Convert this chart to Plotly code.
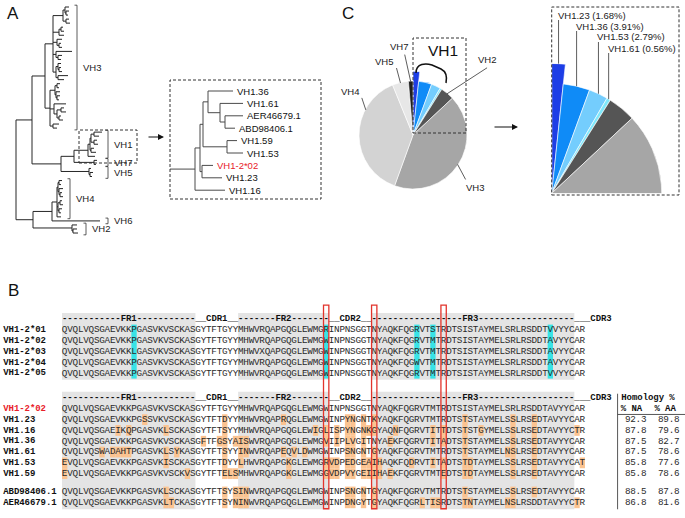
import math
import plotly.graph_objects as go

W, H = 685, 518

# ======================= DATA =======================
# ---- Panel A: VH phylogeny (Newick strings, branch lengths) ----
VH3_CLADE = ("((((:4,(:3,:2):1):2,(:3,:4):3):10,((:2,:3):2,:5):6,(:5,(:2,:3):2):4,(:16,(:4,:3):2):3,"
             "((:3,(:2,:3):1):2,(:10,:6):2):3):8,(((:3,:2):2,(:4,(:3,:2):1):1):5,(:12,((:3,:5):4,(:2,:4):2):3):4,(:6,:4):3):5)")
VH1_CLADE = "((((:8,:5):3,(:3,:4):3):1,(:3,:5):1):2,:7)"
VH7_CLADE = "(:3,:2)"
VH5_CLADE = "(:2,(:3,:2):1)"
VH4_CLADE = "(((:3,:2):1,(:4,(:2,:3):1):1):1,((:2,:3):2,(:3,:2):1):1,:4)"
VH6_CLADE = ""
VH2_CLADE = "(:5,(:4,:5):1)"
clade_names = ["VH3", "VH1", "VH7", "VH5", "VH4", "VH6", "VH2"]
clade_trees = [VH3_CLADE, VH1_CLADE, VH7_CLADE, VH5_CLADE, VH4_CLADE, VH6_CLADE, VH2_CLADE]
main_tree = ("((" + VH3_CLADE + ":13,((" + VH1_CLADE + ":14," + VH7_CLADE + ":20):13," + VH5_CLADE + ":28):29):16,"
             "((" + VH4_CLADE + ":5," + VH6_CLADE + ":48):19," + VH2_CLADE + ":39):17)")
inset_tree = ("((((VH1.36:25,(VH1.61:23,(AER46679.1:18,ABD98406.1:10):5):12):5,(VH1.59:10,VH1.53:16):24):3,"
              "(VH1-2*02:11,VH1.23:20):2):5,VH1.16:30):25")
germline = "VH1-2*02"

# ---- Panel C: VH family usage (%) ----
pie_labels = ["VH1.23", "VH1.36", "VH1.53", "VH1.61", "VH2", "VH3", "VH4", "VH5", "VH7"]
pie_values = [1.68, 3.91, 2.79, 0.56, 4.1, 42.5, 38.3, 4.8, 1.36]
vh1_members = ["VH1.23", "VH1.36", "VH1.53", "VH1.61"]

# ---- Panel B: alignments ----
top_names = ["VH1-2*01", "VH1-2*02", "VH1-2*03", "VH1-2*04", "VH1-2*05"]
top_seqs = [
    "QVQLVQSGAEVKKPGASVKVSCKASGYTFTGYYMHWVRQAPGQGLEWMGRINPNSGGTNYAQKFQGRVTSTRDTSISTAYMELSRLRSDDTVVYYCAR",
    "QVQLVQSGAEVKKPGASVKVSCKASGYTFTGYYMHWVRQAPGQGLEWMGWINPNSGGTNYAQKFQGRVTMTRDTSISTAYMELSRLRSDDTAVYYCAR",
    "QVQLVQSGAEVKKLGASVKVSCKASGYTFTGYYMHWVXQAPGQGLEWMGWINPNSGGTNYAQKFQGRVTMTRDTSISTAYMELSRLRSDDTAVYYCAR",
    "QVQLVQSGAEVKKPGASVKVSCKASGYTFTGYYMHWVRQAPGQGLEWMGWINPNSGGTNYAQKFQGWVTMTRDTSISTAYMELSRLRSDDTAVYYCAR",
    "QVQLVQSGAEVKKPGASVKVSCKASGYTFTGYYMHWVRQAPGQGLEWMGWINPNSGGTNYAQKFQGRVTMTRDTSISTAYMELSRLRSDDTVVYYCAR",
]
bottom_names = ["VH1-2*02", "VH1.23", "VH1.16", "VH1.36", "VH1.61", "VH1.53", "VH1.59", "ABD98406.1", "AER46679.1"]
bottom_seqs = [
    "QVQLVQSGAEVKKPGASVKVSCKASGYTFTGYYMHWVRQAPGQGLEWMGWINPNSGGTNYAQKFQGRVTMTRDTSISTAYMELSRLRSDDTAVYYCAR",
    "QVQLVQSGAEVKKPGSSVKVSCKASGYTFTDYYMHWVRQAPRQGLEWMGWINPYNGNTKYAQKFQGRVTMTRDTSTSTAYMELSSLRSEDTAVYYCAR",
    "QVQLVQSGAEIKQPGASVKLSCKASGYTFTSYYMHWVRQAPGQGLEWIGLISPYNGNKGYAQNFQGRVTITTDTSTSTGYMELSSLRSEDTAVYYCTR",
    "QVQLVQSGAEVKKPGASVKVSCKASGFTFGSYAISWVRQAPGQGLEWMGVIIPLVGITNYAEKFQGRVTITADTSTSTAYMELSSLRSEDTAVYYCAR",
    "QVQLVQSWADAHTPGASVKLSYKASGYTFTSYYINWVRQAPEQVLDWMGWINPSNGNTGYAQKFQGRVTMTRDTSTSTAYMELNSLRSEDTAVYYCAR",
    "EVQLVQSGAEVKKPGASVKISCKASGYTFTDYYLHWVRQAPGKGLEWMGRVDPEDGEAIHAQKFQDRVTITADTSTDTAYMELSSLRSEDTAVYYCAT",
    "EVQLVQSGAEVKKPGASVKVSCKVSGYTFTELSMHWVRQAPGKGLEWMGGVDPVYGEIIHAEKFQGRVTMTEDTSTDTAYMELSSLRSEDTAVYYCAR",
    "QVQLVQSGAEVKKPGASVKLSCKASGYTFTSYSINWVRQAPGQGLEWMGWINPSNGNTGYAQKFQGRVTMTRDTSTSTAYMELSSLRSEDTAVYYCAR",
    "QVQLVQSGAEVKKPGASVKLTCKASGYTFTSYNINWVRQAPGQGLEWMGWINPDNGYTGYAQKFQGRLTISRDTSTNTAYMELNSLRSDDTAVYYCTR",
]
homology_na = [None, 92.3, 87.8, 87.5, 87.5, 85.8, 85.8, 88.5, 86.8]
homology_aa = [None, 89.8, 79.6, 82.7, 78.6, 77.6, 78.6, 87.8, 81.6]
regions = [("FR1", 0, 24), ("CDR1", 25, 32), ("FR2", 33, 49), ("CDR2", 50, 57), ("FR3", 58, 95), ("CDR3", 96, 97)]
allele_var_cols = [13, 49, 66, 69, 91]
boxed_cols = [49, 58, 71]

# ======================= STYLE / LAYOUT =======================
SANS = "Liberation Sans, Arial, sans-serif"
MONO = "Liberation Mono, Courier New, monospace"
pie_colors = ["#1d3ee6", "#0f8bf7", "#74cdfd", "#7fe8fb", "#555555", "#a6a6a6", "#d3d3d3", "#e7e7e7", "#202020"]
pie_radius = [1.18, 1, 1, 1, 1, 1, 1, 1, 1]
SHADE, CYAN, ORANGE, RED = "#e4e4e4", "#38e3e6", "#fbc390", "#e2342c"


def px_x(px):
    return px / W


def px_y(py):
    return 1 - py / H


def parse_newick(s):
    pos = 0

    def node():
        nonlocal pos
        kids = []
        if pos < len(s) and s[pos] == "(":
            pos += 1
            kids.append(node())
            while s[pos] == ",":
                pos += 1
                kids.append(node())
            pos += 1
        start = pos
        while pos < len(s) and s[pos] not in ":,()":
            pos += 1
        name = s[start:pos]
        length = 0.0
        if pos < len(s) and s[pos] == ":":
            pos += 1
            start = pos
            while pos < len(s) and s[pos] not in ",()":
                pos += 1
            length = float(s[start:pos])
        return {"name": name, "len": length, "kids": kids}

    return node()


def tree_layout(tree, x0=0.0):
    xs, ys, leaves = [], [], []
    count = [0]

    def rec(n, xp):
        x = xp + n["len"]
        if n["kids"]:
            cy = [rec(k, x) for k in n["kids"]]
            y = (cy[0] + cy[-1]) / 2.0
            xs.extend([x, x, None]); ys.extend([cy[0], cy[-1], None])
        else:
            y = float(count[0]); count[0] += 1
            leaves.append((n["name"], x, y))
        if n["len"] > 0:
            xs.extend([xp, x, None]); ys.extend([y, y, None])
        return y

    rec(tree, x0)
    return xs, ys, leaves


traces, shapes, annotations = [], [], []

# ---------------- Panel A: main tree ----------------
mx, my, mleaves = tree_layout(parse_newick(main_tree), 0.0)
traces.append(go.Scatter(x=mx, y=my, mode="lines", line=dict(color="#262626", width=1),
                         xaxis="x", yaxis="y", hoverinfo="skip"))
clade_bracket_px = [77, 108, 108, 108, 70, 108, 86]
bx, by = [], []
start = 0
for name, nw, xb_px in zip(clade_names, clade_trees, clade_bracket_px):
    n = nw.count(",") + 1
    first, last = start, start + n - 1
    start += n
    pad = 0.45 if n > 1 else 0.7
    xb = xb_px - 16
    y0, y1 = first - pad, last + pad
    bx += [xb - 2.5, xb, xb, xb - 2.5, None]
    by += [y0, y0, y1, y1, None]
    annotations.append(dict(xref="x", yref="y", x=xb + 4, y=(first + last) / 2, text=name, showarrow=False,
                            xanchor="left", yanchor="middle", font=dict(family=SANS, size=9.5, color="#222")))
traces.append(go.Scatter(x=bx, y=by, mode="lines", line=dict(color="#333", width=0.8),
                         xaxis="x", yaxis="y", hoverinfo="skip"))

# ---------------- Panel A: inset tree ----------------
ix, iy, ileaves = tree_layout(parse_newick(inset_tree), 170.0)
traces.append(go.Scatter(x=ix, y=iy, mode="lines", line=dict(color="#4a4a4a", width=1),
                         xaxis="x2", yaxis="y2", hoverinfo="skip"))
for name, x, y in ileaves:
    annotations.append(dict(xref="x2", yref="y2", x=x + 2, y=y, text=name, showarrow=False, xanchor="left",
                            yanchor="middle",
                            font=dict(family=SANS, size=9.5, color="#e8202a" if name == germline else "#111")))

# ---------------- Panel C: pies ----------------
total = sum(pie_values)
theta_mid, theta_w, acc = [], [], 0.0
for v in pie_values:
    w = v / total * 360.0
    theta_mid.append(acc + w / 2)
    theta_w.append(w)
    acc += w
for sub in ["polar", "polar2"]:
    traces.append(go.Barpolar(r=pie_radius, theta=theta_mid, width=theta_w, subplot=sub,
                              marker=dict(color=pie_colors, line=dict(color="white", width=0.6)),
                              hoverinfo="skip"))

MCX, MCY, MR = 413.0, 135.0, 54.0       # main pie centre / unit radius (px)
ICX, ICY, IR = 551.7, 193.3, 110.0      # zoomed quadrant centre / unit radius (px)


def pie_pt(cx, cy, R, ang, r):
    a = math.radians(ang)
    return cx + R * r * math.sin(a), cy - R * r * math.cos(a)


# group labels on the main pie
leader = {"VH2": (None, 40, -26, "center", "bottom", 0, -1),
          "VH3": (None, 8, 15, "left", "top", -2, 1),
          "VH4": (298, -4, -12, "right", "bottom", -1, 1),
          "VH5": (None, -4, -15, "right", "bottom", -1, 1),
          "VH7": (None, -6, -27, "center", "bottom", -6, -1)}
for name, (ang, dx, dy, xa, ya, tx, ty) in leader.items():
    i = pie_labels.index(name)
    a = theta_mid[i] if ang is None else ang
    ex, ey = pie_pt(MCX, MCY, MR, a, 0.99)
    ox, oy = ex + dx, ey + dy
    shapes.append(dict(type="line", xref="paper", yref="paper", x0=px_x(ex), y0=px_y(ey), x1=px_x(ox),
                       y1=px_y(oy), line=dict(color="#333", width=0.8)))
    annotations.append(dict(xref="paper", yref="paper", x=px_x(ox + tx), y=px_y(oy + ty), text=name,
                            showarrow=False, xanchor=xa, yanchor=ya, font=dict(family=SANS, size=9.5, color="#222")))
annotations.append(dict(xref="paper", yref="paper", x=px_x(443), y=px_y(50), text="VH1", showarrow=False,
                        xanchor="center", yanchor="middle", font=dict(family=SANS, size=15.5, color="#111")))
bp = [(416, 73), (416, 63), (426, 63), (432, 65), (441, 69), (447, 72), (447, 78), (446, 83)]
path = "M {} {} C {} {}, {} {}, {} {} L {} {} C {} {}, {} {}, {} {}".format(
    *[v for p in bp for v in (px_x(p[0]), px_y(p[1]))])
shapes.append(dict(type="path", xref="paper", yref="paper", path=path, line=dict(color="#111", width=1.5)))

# member labels on the zoomed quadrant
for k, name in enumerate(vh1_members):
    i = pie_labels.index(name)
    ex, ey = pie_pt(ICX, ICY, IR, theta_mid[i], pie_radius[i])
    ly = 15 + 11 * k
    shapes.append(dict(type="line", xref="paper", yref="paper", x0=px_x(ex), y0=px_y(ly + 5), x1=px_x(ex),
                       y1=px_y(ey), line=dict(color="#333", width=0.8)))
    annotations.append(dict(xref="paper", yref="paper", x=px_x(ex - 3), y=px_y(ly), text="%s (%.2f%%)" % (name, pie_values[i]),
                            showarrow=False, xanchor="left", yanchor="middle",
                            font=dict(family=SANS, size=9.5, color="#222")))

# ---------------- Panel B: alignment ----------------
CH_W, X0PX = 5.337, 64.67
ROW_H, Y0PX = 10.8, 319.2
top_header_row, top_rows = 0.0, [1, 2, 3, 4, 5]
bot_header_row = 7.3
bot_rows = [8.3, 9.3, 10.3, 11.3, 12.3, 13.3, 14.3, 16.0, 17.0]


def region_header(name, a, b):
    n = b - a + 1
    if name == "CDR3":
        return "___CDR3"
    fill = "-" if name.startswith("FR") else "_"
    left = (n - len(name)) // 2
    return fill * left + name + fill * (n - left - len(name))


header = "".join(region_header(*r) for r in regions)

norm = {"x": [], "y": [], "t": [], "c": []}
bold = {"x": [], "y": [], "t": [], "c": []}


def put(buf, row, col0, s, color):
    for k, ch in enumerate(s):
        if ch != " ":
            buf["x"].append(col0 + k); buf["y"].append(row); buf["t"].append(ch); buf["c"].append(color)


def cell(x0, x1, y0, y1, color, layer="below"):
    shapes.append(dict(type="rect", xref="x3", yref="y3", x0=x0, x1=x1, y0=y0, y1=y1, layer=layer,
                       fillcolor=color, line=dict(width=0)))


for (ya, yb) in [(top_header_row - 0.58, top_rows[-1] + 0.6), (bot_header_row - 0.58, bot_rows[-1] + 0.6)]:
    for name, a, b in regions:
        if name.startswith("FR"):
            cell(a - 0.5, b + 0.5, ya, yb, SHADE)
for c in allele_var_cols:
    cell(c - 0.5, c + 0.5, top_rows[0] - 0.5, top_rows[-1] + 0.5, CYAN)
for row, seq in zip(bot_rows[1:], bottom_seqs[1:]):
    for i, (a, g) in enumerate(zip(seq, bottom_seqs[0])):
        if a != g:
            cell(i - 0.5, i + 0.5, row - 0.5, row + 0.5, ORANGE)
for c in boxed_cols:
    shapes.append(dict(type="rect", xref="x3", yref="y3", x0=c - 0.5, x1=c + 0.5, y0=-1.3, y1=17.55,
                       layer="above", line=dict(color=RED, width=1.3)))

put(bold, top_header_row, 0, header, "#111")
put(bold, bot_header_row, 0, header, "#111")
for row, name, seq in zip(top_rows, top_names, top_seqs):
    put(bold, row, -11, name, "#111")
    put(norm, row, 0, seq, "#2a2a2a")
for row, name, seq in zip(bot_rows, bottom_names, bottom_seqs):
    put(bold, row, -11, name, "#e8202a" if name == germline else "#111")
    put(norm, row, 0, seq, "#2a2a2a")

# homology table
put(bold, bot_header_row, 104.8, "Homology %", "#111")
put(bold, bot_rows[0], 104.7, "% NA", "#111")
put(bold, bot_rows[0], 111.0, "% AA", "#111")
for row, na, aa in zip(bot_rows, homology_na, homology_aa):
    if na is not None:
        put(norm, row, 105.5, "%.1f" % na, "#2a2a2a")
        put(norm, row, 111.7, "%.1f" % aa, "#2a2a2a")
shapes.append(dict(type="line", xref="x3", yref="y3", x0=103.6, x1=103.6, y0=6.9, y1=17.6,
                   line=dict(color="#444", width=0.9)))
shapes.append(dict(type="line", xref="x3", yref="y3", x0=103.6, x1=116.3, y0=8.82, y1=8.82,
                   line=dict(color="#444", width=0.9)))

traces.append(go.Scatter(x=norm["x"], y=norm["y"], text=norm["t"], mode="text", xaxis="x3", yaxis="y3",
                         textposition="middle center", hoverinfo="skip", cliponaxis=False,
                         textfont=dict(family=MONO, size=9.3, color=norm["c"])))
traces.append(go.Scatter(x=bold["x"], y=bold["y"], text=bold["t"], mode="text", xaxis="x3", yaxis="y3",
                         textposition="middle center", hoverinfo="skip", cliponaxis=False,
                         textfont=dict(family=MONO, size=9.0, color=bold["c"], weight="bold")))

# ---------------- decorations ----------------
def dashed_box(x0, y0, x1, y1):
    shapes.append(dict(type="rect", xref="paper", yref="paper", x0=px_x(x0), x1=px_x(x1), y0=px_y(y1), y1=px_y(y0),
                       line=dict(color="#333", width=1, dash="3px,2px")))


def arrow(x0, y0, x1, y1):
    annotations.append(dict(xref="paper", yref="paper", x=px_x(x1), y=px_y(y1), ax=x0 - x1, ay=y0 - y1,
                            axref="pixel", ayref="pixel", showarrow=True, arrowhead=2, arrowsize=1,
                            arrowwidth=1.2, arrowcolor="#111", text=""))


dashed_box(79, 130, 137, 163)
dashed_box(170, 80, 321, 199)
dashed_box(413, 38, 466, 133)
dashed_box(551.7, 7, 679, 195)
arrow(147, 137, 164, 137)
arrow(493, 127, 518, 127)
for letter, x, y in [("A", 13, 14), ("B", 13, 290), ("C", 348, 14)]:
    annotations.append(dict(xref="paper", yref="paper", x=px_x(x), y=px_y(y), text=letter, showarrow=False,
                            xanchor="center", yanchor="middle", font=dict(family=SANS, size=17, color="#111")))

# ---------------- figure ----------------
hidden = dict(visible=False, fixedrange=True)
fig = go.Figure(data=traces)
fig.update_layout(
    width=W, height=H, margin=dict(l=0, r=0, t=0, b=0), showlegend=False,
    paper_bgcolor="white", plot_bgcolor="rgba(0,0,0,0)",
    xaxis=dict(domain=[0, 170 / W], range=[-16, 154], **hidden),
    yaxis=dict(domain=[1 - 300 / H, 1], range=[(300 - 7) / 4.036, -7 / 4.036], **hidden),
    xaxis2=dict(domain=[170 / W, 330 / W], range=[170, 330], **hidden),
    yaxis2=dict(domain=[1 - 300 / H, 1], range=[(300 - 91) / 12.4, -91 / 12.4], **hidden),
    xaxis3=dict(domain=[0, 1], range=[-X0PX / CH_W, (W - X0PX) / CH_W], **hidden),
    yaxis3=dict(domain=[0, 218 / H], range=[(518 - Y0PX) / ROW_H, (300 - Y0PX) / ROW_H], **hidden),
    polar=dict(domain=dict(x=[px_x(MCX - MR * 1.18), px_x(MCX + MR * 1.18)],
                           y=[px_y(MCY + MR * 1.18), px_y(MCY - MR * 1.18)]),
               bgcolor="rgba(0,0,0,0)", bargap=0, hole=0,
               angularaxis=dict(rotation=90, direction="clockwise", visible=False, showline=False, showgrid=False),
               radialaxis=dict(range=[0, 1.18], visible=False, showline=False, showgrid=False)),
    polar2=dict(domain=dict(x=[px_x(ICX), px_x(ICX + IR * 1.18)], y=[px_y(ICY), px_y(ICY - IR * 1.18)]),
                sector=[0, 90], bgcolor="rgba(0,0,0,0)", bargap=0, hole=0,
                angularaxis=dict(rotation=90, direction="clockwise", visible=False, showline=False, showgrid=False),
                radialaxis=dict(range=[0, 1.18], visible=False, showline=False, showgrid=False)),
    shapes=shapes, annotations=annotations,
)
fig.write_html("out.html", config={"displayModeBar": False},
               post_script="document.body.style.margin='0px';document.body.style.overflow='hidden';")
